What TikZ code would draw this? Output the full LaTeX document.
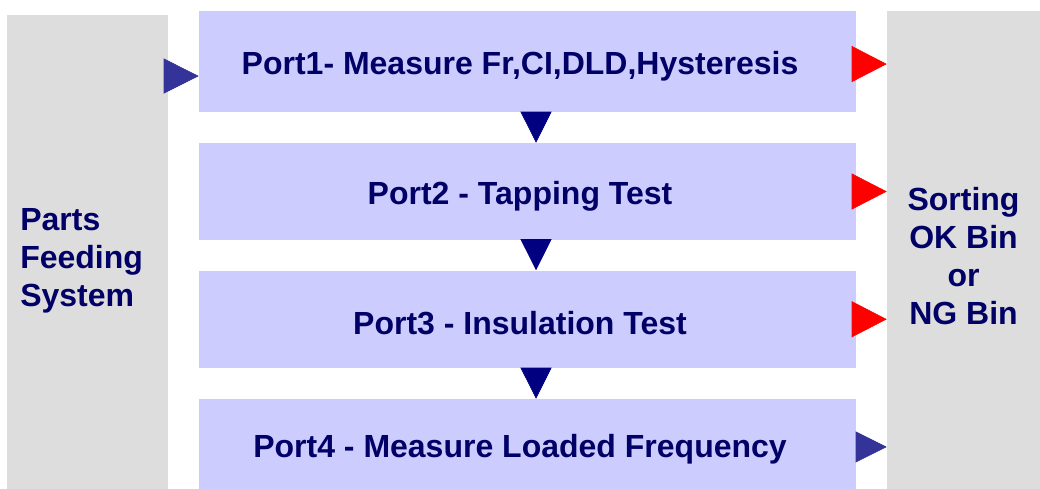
\documentclass[tikz,border=0pt]{standalone}
\usepackage{fontspec}
\setmainfont{Liberation Sans}
\usetikzlibrary{arrows.meta, positioning, calc}
\definecolor{portblue}{HTML}{CCCCFF}
\definecolor{sidegray}{HTML}{DDDDDD}
\definecolor{textnavy}{HTML}{000066}
\definecolor{downnavy}{HTML}{000080}
\definecolor{sideblue}{HTML}{333399}
\newcommand{\px}{0.75pt}

\begin{document}
\begin{tikzpicture}[x=0.75pt, y=-0.75pt, font=\bfseries\fontsize{24}{28.5}\selectfont, text=textnavy]
    \tikzstyle{portbox}=[draw=none, fill=portblue, minimum width=657*\px, inner sep=0pt]
    \tikzstyle{sidebox}=[draw=none, fill=sidegray, inner sep=0pt]
    \tikzstyle{downarrow}=[-{Triangle[length=23.25pt, width=23.25pt]}, draw=downnavy, fill=downnavy, thin]
    \tikzstyle{outarrow}=[-{Triangle[length=26.25pt, width=27pt]}, draw=red, fill=red, thin]
    \tikzstyle{sidearrow}=[-{Triangle[length=26.25pt, width=26.25pt]}, draw=sideblue, fill=sideblue, thin]

\useasboundingbox (0,0) rectangle (1040,489);

\node[sidebox, minimum width=161*\px, minimum height=474*\px] (feed) at (87.5, 252)  {};
\node[sidebox, minimum width=153*\px, minimum height=478*\px] (sort) at (963.5, 250) {};
\node[portbox, minimum height=101*\px]  (port1) at (527.5, 61.5)   {};
\node[portbox, minimum height=97*\px]   (port2) at (527.5, 191.5)  {};
\node[portbox, minimum height=97.5*\px] (port3) at (527.5, 319.25) {};
\node[portbox, minimum height=90*\px]   (port4) at (527.5, 444)    {};

\node (t1) at ([xshift=-5.6pt, yshift=-3.5pt]port1) {Port1- Measure Fr,CI,DLD,Hysteresis};
\node (t2) at ([xshift=-5.6pt, yshift=-3.5pt]port2) {Port2 - Tapping Test};
\node (t3) at ([xshift=-5.6pt, yshift=-3pt]port3) {Port3 - Insulation Test};
\node (t4) at ([xshift=-5.6pt, yshift=-4pt]port4) {Port4 - Measure Loaded Frequency};
\node[anchor=west, align=left, inner sep=0pt] (tfeed) at (20, 261) {Parts\\Feeding\\System};
\node[align=center, inner sep=0pt] (tsort) at (963.5, 256) {Sorting\\OK Bin\\or\\NG Bin};

\coordinate (p1in) at ([yshift=-10.9pt]port1.west);
\draw[sidearrow] (feed.east |- p1in) -- (p1in);

\draw[downarrow] ([xshift=6.4pt]port1.south) -- ([xshift=6.4pt]port2.north);
\draw[downarrow] ([xshift=6.4pt]port2.south) -- ([xshift=6.4pt]port3.north);
\draw[downarrow] ([xshift=6.4pt]port3.south) -- ([xshift=6.4pt]port4.north);

\draw[outarrow] ([yshift=-1.9pt]port1.east) -- ([yshift=-1.9pt]port1.east -| sort.west);
\draw[outarrow] (port2.east) -- (port2.east -| sort.west);
\draw[outarrow] (port3.east) -- (port3.east -| sort.west);
\draw[-{Triangle[length=23.25pt, width=23.25pt]}, draw=sideblue, fill=sideblue, thin] ([yshift=-2.2pt]port4.east) -- ([yshift=-2.2pt]port4.east -| sort.west);
\end{tikzpicture}
\end{document}
